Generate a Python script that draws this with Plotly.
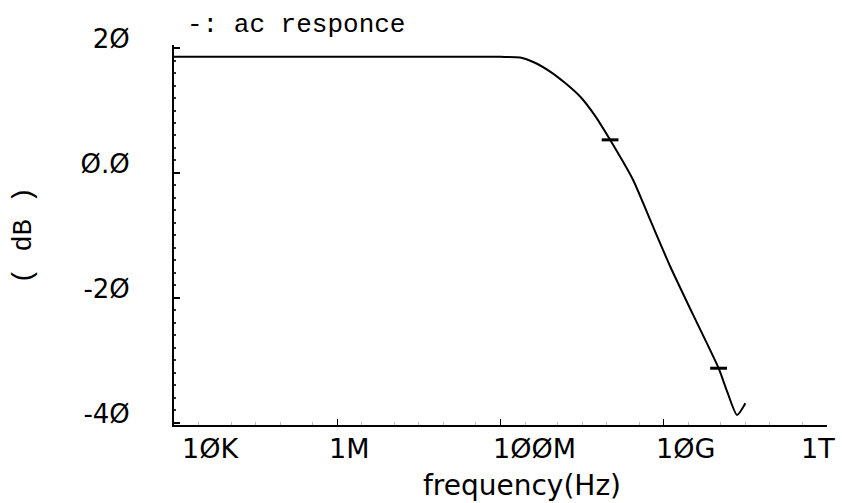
import math
import plotly.graph_objects as go

# AC magnitude response (frequency in Hz, gain in dB)
freq_hz = [1e4, 1e5, 1e6, 1e7, 1e8, 1.74e8, 2.6e8, 4.1e8, 6.2e8, 9.5e8,
           1.45e9, 2.2e9, 4.2e9, 6.8e9, 1.2e10, 2.3e10, 4.7e10, 6.0e10,
           7.9e10, 1.0e11]
gain_db = [18.6, 18.6, 18.6, 18.6, 18.6, 18.5, 17.7, 16.2, 14.4, 12.2,
           9.1, 5.3, -1.1, -7.5, -15.0, -22.8, -31.3, -35.1,
           -38.8, -36.9]

# marked points on the curve
mark_hz = [2.2e9, 4.7e10]
mark_db = [5.3, -31.3]

x_tickvals = [1e4, 1e6, 1e8, 1e10, 1e12]
x_ticktext = ["1ØK", "1M", "1ØØM", "1ØG", "1T"]
y_tickvals = [20, 0, -20, -40]
y_ticktext = ["2Ø", "Ø.Ø", "-2Ø", "-4Ø"]

SANS = "DejaVu Sans, sans-serif"
MONO = "Liberation Mono, DejaVu Sans Mono, monospace"

L, R, T, B = 174, 15, 45, 78
PW, PH = 842 - L - R, 503 - T - B

fig = go.Figure()
fig.add_trace(go.Scatter(
    x=freq_hz, y=gain_db, mode="lines",
    line=dict(color="black", width=2, shape="spline", smoothing=0.6),
    showlegend=False, hoverinfo="skip",
))
fig.add_trace(go.Scatter(
    x=mark_hz, y=mark_db, mode="markers",
    marker=dict(symbol="line-ew", size=12, line=dict(color="black", width=3)),
    showlegend=False, hoverinfo="skip",
))

# x tick labels placed near each decade tick (log axis -> log10 coords)
n_x = len(x_tickvals)
for i, (v, t) in enumerate(zip(x_tickvals, x_ticktext)):
    last = i == n_x - 1
    fig.add_annotation(
        x=math.log10(v), y=0, xref="x", yref="paper", text=t, showarrow=False,
        xanchor="right" if last else "left", yanchor="top",
        xshift=10 if last else (6 if i == 0 else -10), yshift=-6,
        font=dict(family=SANS, size=27, color="black"),
    )

fig.add_annotation(
    x=(185 - L) / PW, y=1, xref="paper", yref="paper", yshift=3,
    text="-: ac responce", showarrow=False, xanchor="left", yanchor="bottom",
    font=dict(family=MONO, size=26, color="black"),
)
fig.add_annotation(
    x=(522 - L) / PW, y=0, xref="paper", yref="paper", yshift=-42,
    text="frequency(Hz)", showarrow=False, xanchor="center", yanchor="top",
    font=dict(family=SANS, size=28, color="black"),
)
fig.add_annotation(
    x=-(L - 24) / PW, y=(425 - 236) / PH, xref="paper", yref="paper",
    text="( dB )", showarrow=False, textangle=-90,
    xanchor="center", yanchor="middle",
    font=dict(family=MONO, size=27, color="black"),
)

fig.update_layout(
    width=842, height=503,
    margin=dict(l=L, r=R, t=T, b=B),
    paper_bgcolor="white", plot_bgcolor="white",
    xaxis=dict(
        type="log", range=[4, 12],
        tickvals=x_tickvals, ticktext=[""] * n_x,
        ticks="inside", ticklen=6, tickwidth=1, tickcolor="black",
        showline=True, linecolor="black", linewidth=2,
        showgrid=False, zeroline=False,
        minor=dict(ticks="inside", ticklen=3, tickcolor="#bbbbbb", tickwidth=1,
                   showgrid=False),
    ),
    yaxis=dict(
        range=[-40.4, 20.5],
        tickvals=y_tickvals, ticktext=y_ticktext,
        ticks="inside", ticklen=6, tickwidth=2, tickcolor="black",
        showline=True, linecolor="black", linewidth=2,
        showgrid=False, zeroline=False,
        ticklabelstandoff=37, ticklabelshift=-9,
        tickfont=dict(family=SANS, size=26, color="black"),
        minor=dict(dtick=2, ticks="inside", ticklen=2, tickwidth=2,
                   tickcolor="#333333", showgrid=False),
    ),
)

fig.write_html("out.html")
